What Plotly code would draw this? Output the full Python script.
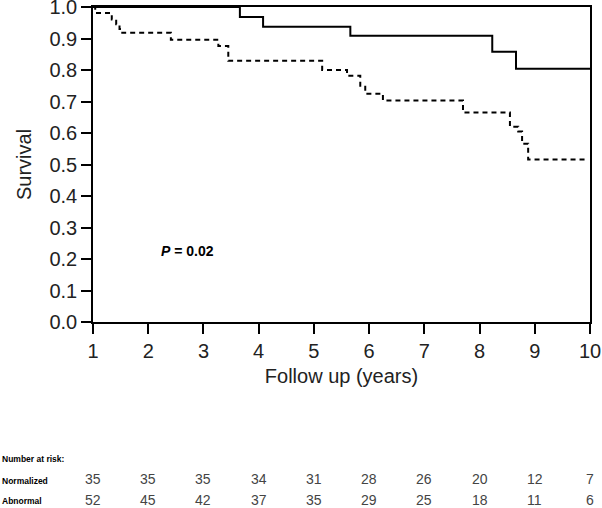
import plotly.graph_objects as go

# Kaplan-Meier step data
norm_t = [1.0, 3.66, 4.08, 5.66, 8.23, 8.66, 10.0]
norm_s = [1.0, 0.968, 0.937, 0.909, 0.858, 0.804, 0.804]

abn_t = [1.0, 1.04, 1.34, 1.42, 1.48, 1.53, 2.41, 3.27, 3.45, 5.15, 5.6, 5.84, 5.93,
         6.25, 7.7, 8.55, 8.7, 8.77, 8.88, 9.95]
abn_s = [1.0, 0.981, 0.96, 0.945, 0.93, 0.918, 0.896, 0.876, 0.829, 0.80, 0.782, 0.75,
         0.725, 0.703, 0.665, 0.62, 0.605, 0.566, 0.516, 0.516]

risk_years = [1, 2, 3, 4, 5, 6, 7, 8, 9, 10]
risk_normalized = [35, 35, 35, 34, 31, 28, 26, 20, 12, 7]
risk_abnormal = [52, 45, 42, 37, 35, 29, 25, 18, 11, 6]

W, H = 602, 508
ML, MR, MT, MB = 93, 12, 7, 186
plot_h = H - MT - MB


def py(pix):
    """convert page pixel y to paper coordinate"""
    return (H - MB - pix) / plot_h


fig = go.Figure()
fig.add_trace(go.Scatter(x=norm_t, y=norm_s, mode="lines", line_shape="hv",
                         line=dict(color="black", width=2), name="Normalized",
                         showlegend=False))
fig.add_trace(go.Scatter(x=abn_t, y=abn_s, mode="lines", line_shape="hv",
                         line=dict(color="black", width=2, dash="5px,4px"),
                         name="Abnormal", showlegend=False))

font_main = "Liberation Sans, Arial, sans-serif"

fig.update_layout(
    width=W, height=H,
    margin=dict(l=ML, r=MR, t=MT, b=MB, autoexpand=False),
    paper_bgcolor="white", plot_bgcolor="white",
    font=dict(family=font_main, color="#222"),
    xaxis=dict(range=[1, 10], tickvals=risk_years, ticks="outside", ticklen=10,
               tickwidth=1.5, tickcolor="black", showline=True, linecolor="black",
               linewidth=1.5, mirror=True, showgrid=False, zeroline=False,
               tickfont=dict(size=20, color="#222"), ticklabeloverflow="allow",
               title=dict(text="Follow up (years)", font=dict(size=20, color="#222"),
                          standoff=8)),
    yaxis=dict(range=[0, 1], dtick=0.1, tickformat=".1f", ticks="outside", ticklen=10,
               tickwidth=1.5, tickcolor="black", showline=True, linecolor="black",
               linewidth=1.5, mirror=True, showgrid=False, zeroline=False,
               tickfont=dict(size=20, color="#222"), ticklabeloverflow="allow",
               title=dict(text="Survival", font=dict(size=20, color="#222"),
                          standoff=12)),
)

fig.add_annotation(x=2.72, y=0.225, xref="x", yref="y", showarrow=False,
                   text="<b><i>P</i> = 0.02</b>", font=dict(size=14, color="black"))

lab_font = dict(size=8.5, color="black", family="Liberation Sans, Arial, sans-serif")
for txt, pix in [("<b>Number at risk:</b>", 459), ("<b>Normalized</b>", 481),
                 ("<b>Abnormal</b>", 501)]:
    fig.add_annotation(x=0, y=py(pix), xref="paper", yref="paper", xanchor="left",
                       yanchor="middle", xshift=-ML, showarrow=False, text=txt,
                       font=lab_font)

num_font = dict(size=14, color="#444", family="Liberation Sans, Arial, sans-serif")
for yr, a, b in zip(risk_years, risk_normalized, risk_abnormal):
    fig.add_annotation(x=yr, y=py(479), xref="x", yref="paper", showarrow=False,
                       xanchor="center", yanchor="middle", text=str(a), font=num_font)
    fig.add_annotation(x=yr, y=py(500), xref="x", yref="paper", showarrow=False,
                       xanchor="center", yanchor="middle", text=str(b), font=num_font)

fig.write_html("out.html", config={"displayModeBar": False},
               post_script="document.body.style.margin='0';document.body.style.overflow='hidden';")
